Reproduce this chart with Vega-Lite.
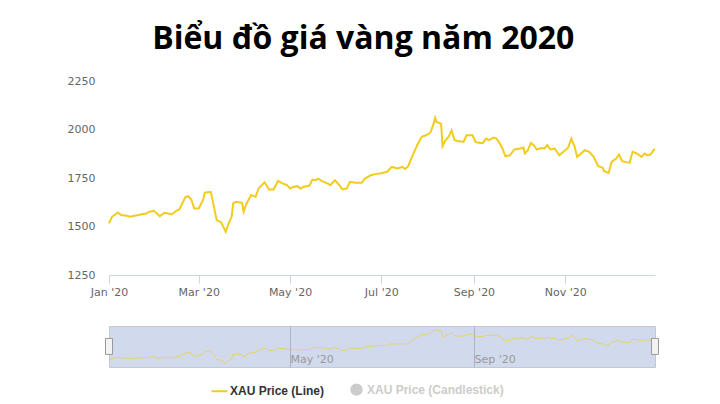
{
  "$schema": "https://vega.github.io/schema/vega-lite/v6.json",
  "padding": {"left": 67, "top": 23, "right": 10, "bottom": 4},
  "background": "#ffffff",
  "title": {"text": "Biểu đồ giá vàng năm 2020", "font": "Open Sans", "fontSize": 32, "fontWeight": "bold", "color": "#000000", "anchor": "middle", "offset": 19},
  "config": {
    "font": "DejaVu Sans",
    "view": {"stroke": null}
  },
  "bounds": "flush",
  "spacing": 51,
  "resolve": {"scale": {"color": "shared"}, "legend": {"color": "shared"}},
  "datasets": {
    "gold": [
      {"date": "2020-01-01", "price": 1516},
      {"date": "2020-01-03", "price": 1550},
      {"date": "2020-01-07", "price": 1572},
      {"date": "2020-01-09", "price": 1559},
      {"date": "2020-01-13", "price": 1555},
      {"date": "2020-01-15", "price": 1550},
      {"date": "2020-01-20", "price": 1558},
      {"date": "2020-01-23", "price": 1563},
      {"date": "2020-01-26", "price": 1567},
      {"date": "2020-01-28", "price": 1576},
      {"date": "2020-01-31", "price": 1581},
      {"date": "2020-02-02", "price": 1567},
      {"date": "2020-02-04", "price": 1553},
      {"date": "2020-02-07", "price": 1571},
      {"date": "2020-02-12", "price": 1563},
      {"date": "2020-02-15", "price": 1581},
      {"date": "2020-02-17", "price": 1588},
      {"date": "2020-02-21", "price": 1650},
      {"date": "2020-02-23", "price": 1656},
      {"date": "2020-02-25", "price": 1639},
      {"date": "2020-02-27", "price": 1593},
      {"date": "2020-03-01", "price": 1593},
      {"date": "2020-03-04", "price": 1639},
      {"date": "2020-03-05", "price": 1674},
      {"date": "2020-03-09", "price": 1679},
      {"date": "2020-03-10", "price": 1645},
      {"date": "2020-03-13", "price": 1533},
      {"date": "2020-03-16", "price": 1521},
      {"date": "2020-03-19", "price": 1473},
      {"date": "2020-03-21", "price": 1516},
      {"date": "2020-03-23", "price": 1550},
      {"date": "2020-03-24", "price": 1619},
      {"date": "2020-03-26", "price": 1627},
      {"date": "2020-03-30", "price": 1622},
      {"date": "2020-03-31", "price": 1576},
      {"date": "2020-04-02", "price": 1619},
      {"date": "2020-04-05", "price": 1662},
      {"date": "2020-04-08", "price": 1653},
      {"date": "2020-04-10", "price": 1696},
      {"date": "2020-04-14", "price": 1728},
      {"date": "2020-04-17", "price": 1691},
      {"date": "2020-04-20", "price": 1691},
      {"date": "2020-04-23", "price": 1735},
      {"date": "2020-04-26", "price": 1722},
      {"date": "2020-04-29", "price": 1713},
      {"date": "2020-05-01", "price": 1696},
      {"date": "2020-05-03", "price": 1704},
      {"date": "2020-05-06", "price": 1708},
      {"date": "2020-05-08", "price": 1696},
      {"date": "2020-05-10", "price": 1704},
      {"date": "2020-05-14", "price": 1711},
      {"date": "2020-05-16", "price": 1742},
      {"date": "2020-05-18", "price": 1739},
      {"date": "2020-05-20", "price": 1747},
      {"date": "2020-05-22", "price": 1735},
      {"date": "2020-05-26", "price": 1722},
      {"date": "2020-05-28", "price": 1713},
      {"date": "2020-05-31", "price": 1739},
      {"date": "2020-06-03", "price": 1713},
      {"date": "2020-06-05", "price": 1691},
      {"date": "2020-06-08", "price": 1696},
      {"date": "2020-06-10", "price": 1730},
      {"date": "2020-06-14", "price": 1725},
      {"date": "2020-06-18", "price": 1725},
      {"date": "2020-06-20", "price": 1747},
      {"date": "2020-06-24", "price": 1764},
      {"date": "2020-06-27", "price": 1770},
      {"date": "2020-07-01", "price": 1775},
      {"date": "2020-07-05", "price": 1782},
      {"date": "2020-07-08", "price": 1807},
      {"date": "2020-07-12", "price": 1799},
      {"date": "2020-07-15", "price": 1807},
      {"date": "2020-07-17", "price": 1797},
      {"date": "2020-07-19", "price": 1811},
      {"date": "2020-07-22", "price": 1867},
      {"date": "2020-07-25", "price": 1919},
      {"date": "2020-07-28", "price": 1962},
      {"date": "2020-07-31", "price": 1970},
      {"date": "2020-08-02", "price": 1979},
      {"date": "2020-08-03", "price": 1987},
      {"date": "2020-08-05", "price": 2030},
      {"date": "2020-08-06", "price": 2061},
      {"date": "2020-08-07", "price": 2039},
      {"date": "2020-08-10", "price": 2030},
      {"date": "2020-08-11", "price": 1914},
      {"date": "2020-08-13", "price": 1945},
      {"date": "2020-08-15", "price": 1962},
      {"date": "2020-08-17", "price": 1996},
      {"date": "2020-08-19", "price": 1945},
      {"date": "2020-08-22", "price": 1939},
      {"date": "2020-08-25", "price": 1936},
      {"date": "2020-08-26", "price": 1953},
      {"date": "2020-08-27", "price": 1970},
      {"date": "2020-08-31", "price": 1970},
      {"date": "2020-09-02", "price": 1936},
      {"date": "2020-09-05", "price": 1931},
      {"date": "2020-09-07", "price": 1931},
      {"date": "2020-09-09", "price": 1953},
      {"date": "2020-09-11", "price": 1945},
      {"date": "2020-09-14", "price": 1958},
      {"date": "2020-09-16", "price": 1953},
      {"date": "2020-09-18", "price": 1931},
      {"date": "2020-09-20", "price": 1902},
      {"date": "2020-09-22", "price": 1862},
      {"date": "2020-09-25", "price": 1867},
      {"date": "2020-09-28", "price": 1897},
      {"date": "2020-10-02", "price": 1902},
      {"date": "2020-10-04", "price": 1907},
      {"date": "2020-10-05", "price": 1876},
      {"date": "2020-10-07", "price": 1893},
      {"date": "2020-10-09", "price": 1931},
      {"date": "2020-10-11", "price": 1919},
      {"date": "2020-10-13", "price": 1897},
      {"date": "2020-10-16", "price": 1905},
      {"date": "2020-10-18", "price": 1902},
      {"date": "2020-10-20", "price": 1919},
      {"date": "2020-10-22", "price": 1897},
      {"date": "2020-10-25", "price": 1902},
      {"date": "2020-10-28", "price": 1867},
      {"date": "2020-11-01", "price": 1893},
      {"date": "2020-11-03", "price": 1907},
      {"date": "2020-11-05", "price": 1953},
      {"date": "2020-11-07", "price": 1919},
      {"date": "2020-11-09", "price": 1859},
      {"date": "2020-11-11", "price": 1872},
      {"date": "2020-11-14", "price": 1893},
      {"date": "2020-11-17", "price": 1885},
      {"date": "2020-11-20", "price": 1859},
      {"date": "2020-11-23", "price": 1811},
      {"date": "2020-11-26", "price": 1804},
      {"date": "2020-11-27", "price": 1785},
      {"date": "2020-11-30", "price": 1776},
      {"date": "2020-12-02", "price": 1833},
      {"date": "2020-12-05", "price": 1850},
      {"date": "2020-12-07", "price": 1871},
      {"date": "2020-12-09", "price": 1837},
      {"date": "2020-12-11", "price": 1833},
      {"date": "2020-12-14", "price": 1828},
      {"date": "2020-12-16", "price": 1885},
      {"date": "2020-12-19", "price": 1876},
      {"date": "2020-12-22", "price": 1859},
      {"date": "2020-12-24", "price": 1876},
      {"date": "2020-12-26", "price": 1867},
      {"date": "2020-12-28", "price": 1871},
      {"date": "2020-12-30", "price": 1893},
      {"date": "2020-12-31", "price": 1900}
    ],
    "handles": [
      {"date": "2020-01-01"},
      {"date": "2020-12-31"}
    ]
  },
  "vconcat": [
    {
      "width": 546,
      "height": 194,
      "data": {"name": "gold"},
      "mark": {"type": "line", "strokeWidth": 2},
      "encoding": {
        "x": {
          "field": "date", "type": "temporal",
          "scale": {"type": "utc", "domain": [{"year": 2020, "month": 1, "date": 1, "utc": true}, {"year": 2020, "month": 12, "date": 31, "utc": true}]},
          "axis": {
            "title": null,
            "values": [
              {"year": 2020, "month": 1, "date": 1, "utc": true},
              {"year": 2020, "month": 3, "date": 1, "utc": true},
              {"year": 2020, "month": 5, "date": 1, "utc": true},
              {"year": 2020, "month": 7, "date": 1, "utc": true},
              {"year": 2020, "month": 9, "date": 1, "utc": true},
              {"year": 2020, "month": 11, "date": 1, "utc": true}
            ],
            "labelExpr": "utcFormat(datum.value, \"%b '%y\")",
            "labelFlush": false,
            "labelOverlap": false,
            "grid": false,
            "domainColor": "#ccd6eb",
            "tickColor": "#ccd6eb",
            "tickSize": 8,
            "labelPadding": 3,
            "labelColor": "#666666",
            "labelFontSize": 11,
            "labelFont": "DejaVu Sans"
          }
        },
        "y": {
          "field": "price", "type": "quantitative",
          "scale": {"domain": [1250, 2250], "nice": false, "zero": false},
          "axis": {
            "title": null,
            "format": "d",
            "values": [1250, 1500, 1750, 2000, 2250],
            "grid": false,
            "domain": false,
            "ticks": false,
            "labelPadding": 14,
            "labelColor": "#666666",
            "labelFontSize": 11,
            "labelFont": "DejaVu Sans"
          }
        },
        "color": {
          "datum": "XAU Price (Line)",
          "type": "nominal",
          "scale": {"domain": ["XAU Price (Line)", "XAU Price (Candlestick)"], "range": ["#f2cc1c", "#cccccc"]},
          "legend": {
            "title": null,
            "orient": "none",
            "legendX": 104,
            "legendY": 302,
            "direction": "horizontal",
            "symbolType": "stroke",
            "symbolStrokeWidth": 2,
            "symbolSize": 256,
            "labelFont": "Liberation Sans",
            "labelFontSize": 12,
            "labelFontWeight": "bold",
            "labelColor": "#333333",
            "columnPadding": 22,
            "encoding": {
              "symbols": {
                "shape": {"value": {"expr": "datum.value === 'XAU Price (Line)' ? 'stroke' : 'circle'"}},
                "fill": {"value": {"expr": "datum.value === 'XAU Price (Line)' ? 'transparent' : '#cccccc'"}},
                "size": {"value": {"expr": "datum.value === 'XAU Price (Line)' ? 256 : 110"}}
              },
              "labels": {
                "fill": {"value": {"expr": "datum.value === 'XAU Price (Line)' ? '#333333' : '#cccccc'"}}
              }
            }
          }
        }
      }
    },
    {
      "width": 546,
      "height": 41,
      "view": {"fill": "#d1daed", "stroke": "#c2c8d6"},
      "layer": [
        {
          "data": {"name": "gold"},
          "mark": {"type": "line", "strokeWidth": 1, "opacity": 0.6},
          "encoding": {
            "x": {
              "field": "date", "type": "temporal",
              "scale": {"type": "utc", "domain": [{"year": 2020, "month": 1, "date": 1, "utc": true}, {"year": 2020, "month": 12, "date": 31, "utc": true}]},
              "axis": {
                "title": null,
                "values": [
                  {"year": 2020, "month": 5, "date": 1, "utc": true},
                  {"year": 2020, "month": 9, "date": 1, "utc": true}
                ],
                "labelExpr": "utcFormat(datum.value, \"%b '%y\")",
                "grid": true,
                "gridColor": "#aab2c4",
                "domain": false,
                "ticks": false,
                "labelAlign": "left",
                "labelFlush": false,
                "labelPadding": -14,
                "labelDx": 2,
                "labelColor": "#999999",
                "labelFontSize": 11,
                "labelFont": "DejaVu Sans"
              }
            },
            "y": {
              "field": "price", "type": "quantitative",
              "scale": {"domain": [1404, 2113], "nice": false, "zero": false},
              "axis": null
            },
            "color": {"datum": "XAU Price (Line)", "type": "nominal"}
          }
        },
        {
          "data": {"name": "handles"},
          "mark": {"type": "tick", "orient": "vertical", "thickness": 7, "size": 16, "color": "#f2f2f2", "stroke": "#999999", "strokeWidth": 1, "opacity": 1},
          "encoding": {
            "x": {"field": "date", "type": "temporal"},
            "y": {"datum": 1760}
          }
        }
      ]
    }
  ]
}
